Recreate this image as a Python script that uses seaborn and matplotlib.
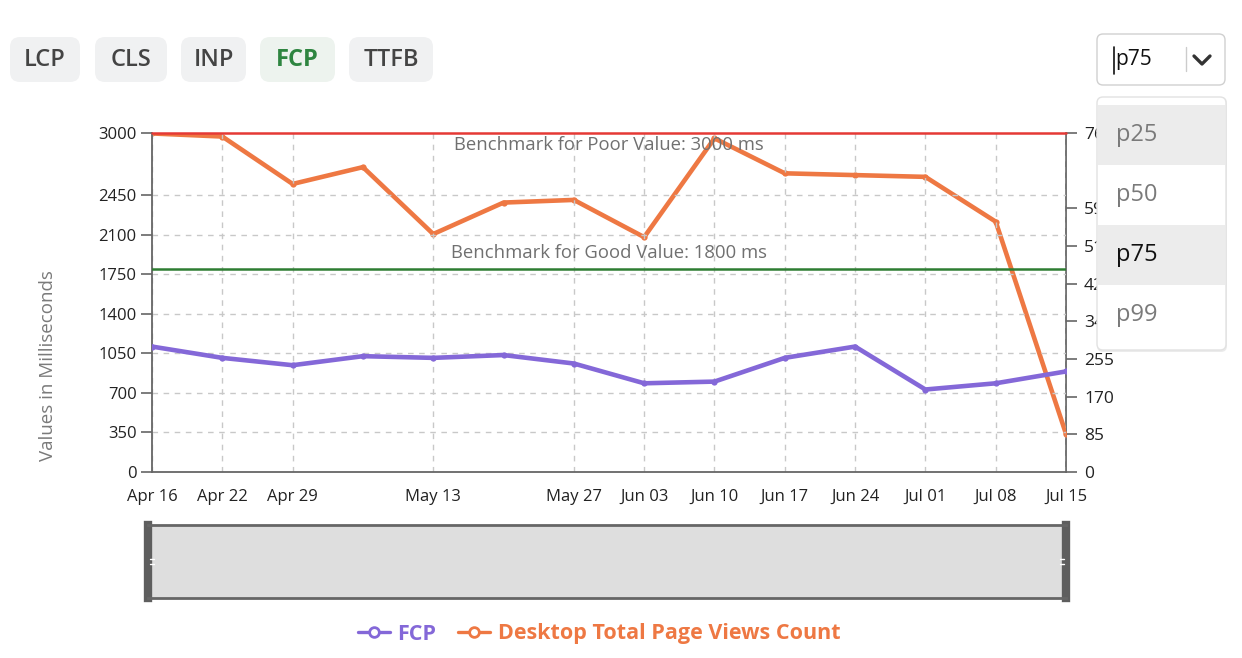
import numpy as np
import pandas as pd
import matplotlib
matplotlib.use("Agg")
import matplotlib.pyplot as plt
from matplotlib.patches import FancyBboxPatch, Rectangle
from matplotlib.lines import Line2D
import seaborn as sns

# ---------------- data ----------------
dates = ["Apr 16", "Apr 22", "Apr 29", "May 06", "May 13", "May 20", "May 27",
         "Jun 03", "Jun 10", "Jun 17", "Jun 24", "Jul 01", "Jul 08", "Jul 15"]
shown_dates = ["Apr 16", "Apr 22", "Apr 29", "May 13", "May 27", "Jun 03",
               "Jun 10", "Jun 17", "Jun 24", "Jul 01", "Jul 08", "Jul 15"]
fcp_ms = [1110, 1010, 945, 1025, 1010, 1035, 960, 785, 800, 1010, 1110, 730, 785, 890]
page_views = [764, 757, 650, 688, 537, 608, 614, 530, 753, 674, 670, 666, 565, 86]
left_ticks = [0, 350, 700, 1050, 1400, 1750, 2100, 2450, 3000]
right_ticks = [0, 85, 170, 255, 340, 425, 510, 595, 765]
left_max = 3000
right_max = 765
poor_benchmark = 3000
good_benchmark = 1800
metric_buttons = ["LCP", "CLS", "INP", "FCP", "TTFB"]
active_metric = "FCP"
percentiles = ["p25", "p50", "p75", "p99"]
selected_percentile = "p75"

C_FCP = "#8468d8"
C_PV = "#ee7843"
FONT = ["Open Sans", "DejaVu Sans"]

sns.set_theme(style="white")
plt.rcParams["font.family"] = FONT

W, H = 1242, 658
fig = plt.figure(figsize=(W / 100, H / 100), dpi=100)


def fx(px):
    return px / W


def fy(py):
    return 1 - py / H


df = pd.DataFrame({"date": dates, "fcp": fcp_ms, "pv": page_views})

ax = fig.add_axes([fx(152), fy(472), fx(1066) - fx(152), fy(133) - fy(472)])
ax2 = ax.twinx()

sns.lineplot(data=df, x="date", y="fcp", ax=ax, color=C_FCP, lw=3.3,
             marker="o", markersize=4.5, markeredgewidth=0, sort=False, zorder=4)
sns.lineplot(data=df, x="date", y="pv", ax=ax2, color=C_PV, lw=3.3,
             marker="o", markersize=4.5, markeredgewidth=0, sort=False, zorder=4)

n = len(dates)
ax.set_xlim(0, n - 1)
ax2.set_xlim(0, n - 1)
ax.set_ylim(0, left_max)
ax2.set_ylim(0, right_max)

tick_pos = [dates.index(d) for d in shown_dates]
ax.set_xticks(tick_pos)
ax.set_xticklabels(shown_dates)
ax.set_yticks(left_ticks)
ax.set_yticklabels([str(v) for v in left_ticks])
ax2.set_yticks(right_ticks)
ax2.set_yticklabels([str(v) for v in right_ticks])

ax.set_xlabel("")
ax.set_ylabel("")
ax2.set_ylabel("")

# grid
for p in tick_pos:
    ax.axvline(p, color="#c8c8c8", lw=1, ls=(0, (4, 4)), zorder=0)
for v in left_ticks:
    if 0 < v < left_max:
        ax.axhline(v, color="#c8c8c8", lw=1, ls=(0, (4, 4)), zorder=0)

# benchmarks
ax.axhline(poor_benchmark, color="#e53935", lw=1.8, zorder=3, clip_on=False)
ax.axhline(good_benchmark, color="#2e7d32", lw=1.8, zorder=3)
ax.text((n - 1) / 2, 2895, f"Benchmark for Poor Value: {poor_benchmark} ms",
        ha="center", va="center", fontsize=13.3, color="#707070", zorder=5)
ax.text((n - 1) / 2, 1935, f"Benchmark for Good Value: {good_benchmark} ms",
        ha="center", va="center", fontsize=13.3, color="#707070", zorder=5)

# spines / ticks
for a in (ax, ax2):
    for s in a.spines.values():
        s.set_visible(False)
    a.tick_params(axis="both", which="both", length=8, width=1.2, color="#666666",
                  labelcolor="#222222", labelsize=12, pad=3)
ax.spines["left"].set_visible(True)
ax.spines["bottom"].set_visible(True)
ax2.spines["right"].set_visible(True)
for s in ("left", "bottom"):
    ax.spines[s].set_color("#666666")
    ax.spines[s].set_linewidth(1.3)
ax2.spines["right"].set_color("#666666")
ax2.spines["right"].set_linewidth(1.3)
ax.tick_params(axis="x", pad=4)
ax2.tick_params(axis="y", pad=5, labelsize=12.5)
ax2.tick_params(axis="x", length=0)
ax.set_zorder(ax2.get_zorder() + 1)
ax.patch.set_visible(False)

fig.text(fx(48), fy(366), "Values in Milliseconds", rotation=90, ha="center",
         va="center", fontsize=13.5, color="#7a7a7a")

# slider (range navigator)
sax = fig.add_axes([fx(148), fy(598), fx(1066) - fx(148), fy(525) - fy(598)])
sax.set_facecolor("#dedede")
sax.set_xticks([])
sax.set_yticks([])
for s in ("top", "bottom"):
    sax.spines[s].set_color("#666666")
    sax.spines[s].set_linewidth(2)
for s in ("left", "right"):
    sax.spines[s].set_color("#5e5e5e")
    sax.spines[s].set_linewidth(6)
for side in (0.004, 0.996):
    for dy in (-0.03, 0.03):
        sax.plot([side - 0.002, side + 0.002], [0.5 + dy, 0.5 + dy],
                 transform=sax.transAxes, color="white", lw=1, clip_on=False, zorder=6)

# legend
handles = [Line2D([], [], color=C_FCP, lw=2.4, marker="o", markersize=7,
                  markerfacecolor="white", markeredgewidth=2),
           Line2D([], [], color=C_PV, lw=2.4, marker="o", markersize=7,
                  markerfacecolor="white", markeredgewidth=2)]
leg = fig.legend(handles, ["FCP", "Desktop Total Page Views Count"],
                 loc="center", bbox_to_anchor=(fx(599), fy(634)), ncol=2,
                 frameon=False, handlelength=1.5, handletextpad=0.35,
                 columnspacing=1.0, prop={"size": 15.5, "weight": "bold"})
for t, c in zip(leg.get_texts(), [C_FCP, C_PV]):
    t.set_color(c)

# metric buttons
btn_x = [(10, 80), (95, 167), (181, 246), (260, 335), (349, 433)]
for label, (x0, x1) in zip(metric_buttons, btn_x):
    active = label == active_metric
    p = FancyBboxPatch((fx(x0 + 10), fy(82 - 10)), fx(x1 - x0 - 20), fy(37) - fy(82) - 2 * (10 / H),
                       boxstyle=f"round,pad={10 / W}", transform=fig.transFigure,
                       facecolor="#edf3ee" if active else "#f0f1f2", edgecolor="none",
                       zorder=10, mutation_aspect=W / H)
    fig.patches.append(p)
    fig.text(fx((x0 + x1) / 2), fy(60), label, ha="center", va="center",
             fontsize=17, fontweight="bold" if active else "semibold",
             color="#2e8540" if active else "#444444", zorder=11)

# percentile selector
sel = FancyBboxPatch((fx(1097 + 6), fy(85 - 6)), fx(128 - 12), fy(34) - fy(85) - 2 * (6 / H),
                     boxstyle=f"round,pad={6 / W}", transform=fig.transFigure,
                     facecolor="white", edgecolor="#d0d0d0", lw=1, zorder=10,
                     mutation_aspect=W / H)
fig.patches.append(sel)
fig.text(fx(1115), fy(60), selected_percentile, ha="left", va="center",
         fontsize=15, color="#111111", zorder=11)
fig.lines.append(Line2D([fx(1114), fx(1114)], [fy(47), fy(74)], transform=fig.transFigure,
                        color="#111111", lw=1.2, zorder=12))
fig.lines.append(Line2D([fx(1186), fx(1186)], [fy(47), fy(71)], transform=fig.transFigure,
                        color="#cccccc", lw=1, zorder=12))
fig.lines.append(Line2D([fx(1194), fx(1202), fx(1210)], [fy(56), fy(64), fy(56)],
                        transform=fig.transFigure, color="#333333", lw=2.4, zorder=12,
                        solid_capstyle="round", solid_joinstyle="round"))

# dropdown menu
shadow = FancyBboxPatch((fx(1097 + 6), fy(352 - 6)), fx(130 - 12), fy(97) - fy(352) - 2 * (6 / H),
                        boxstyle=f"round,pad={6 / W}", transform=fig.transFigure,
                        facecolor="#000000", alpha=0.08, edgecolor="none", zorder=10,
                        mutation_aspect=W / H)
fig.patches.append(shadow)
menu = FancyBboxPatch((fx(1097 + 6), fy(350 - 6)), fx(129 - 12), fy(97) - fy(350) - 2 * (6 / H),
                      boxstyle=f"round,pad={6 / W}", transform=fig.transFigure,
                      facecolor="white", edgecolor="#e2e2e2", lw=1, zorder=10.5,
                      mutation_aspect=W / H)
fig.patches.append(menu)
item_top = 105
item_h = 60
for i, pct in enumerate(percentiles):
    y0 = item_top + i * item_h
    if pct in ("p25", selected_percentile):
        fig.patches.append(Rectangle((fx(1098), fy(y0 + item_h)), fx(127), fy(y0) - fy(y0 + item_h),
                                     transform=fig.transFigure, facecolor="#ececec",
                                     edgecolor="none", zorder=10.8))
    fig.text(fx(1116), fy(y0 + item_h / 2), pct, ha="left", va="center", fontsize=17,
             color="#111111" if pct == selected_percentile else "#7a7a7a", zorder=11)

fig.savefig("out.png", dpi=100, facecolor="white")
